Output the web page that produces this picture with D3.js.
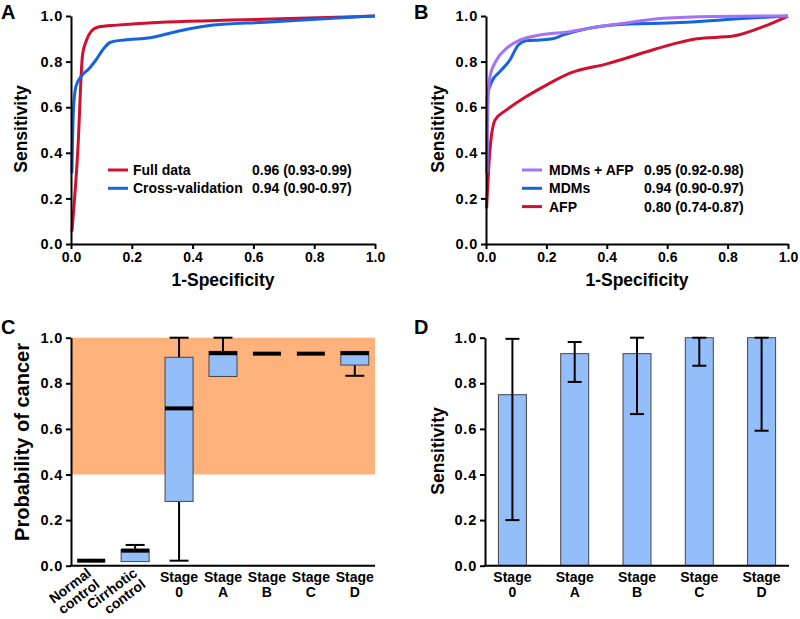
<!DOCTYPE html>
<html>
<head>
<meta charset="utf-8">
<script src="https://cdn.jsdelivr.net/npm/d3@7"></script>
<style>
  html, body { margin: 0; padding: 0; background: #fff; }
  svg { display: block; font-family: Arial, "Liberation Sans", sans-serif; font-weight: bold; }
</style>
</head>
<body>
<svg id="chart" width="800" height="619"></svg>
<script>
// ---------------- DATA ----------------
// Panel A ROC curves (1-specificity, sensitivity)
const fullDataFpr = [0.003, 0.022, 0.038, 0.05, 0.065, 0.09, 0.15, 0.3, 0.53, 0.75, 1.0];
const fullDataTpr = [0.054, 0.40, 0.83, 0.89, 0.93, 0.952, 0.96, 0.973, 0.982, 0.99, 1.0];
const crossValFpr = [0.003, 0.008, 0.016, 0.033, 0.06, 0.082, 0.104, 0.13, 0.175, 0.26, 0.345, 0.444, 0.64, 0.86, 1.0];
const crossValTpr = [0.31, 0.59, 0.69, 0.734, 0.77, 0.807, 0.851, 0.885, 0.895, 0.905, 0.931, 0.956, 0.973, 0.99, 1.0];
const legendA = ["Full data", "Cross-validation"];
const aucA = ["0.96 (0.93-0.99)", "0.94 (0.90-0.97)"];

// Panel B ROC curves
const mdmAfpFpr = [0.003, 0.006, 0.013, 0.035, 0.068, 0.113, 0.179, 0.278, 0.35, 0.444, 0.587, 0.753, 1.0];
const mdmAfpTpr = [0.31, 0.60, 0.734, 0.807, 0.858, 0.895, 0.917, 0.931, 0.948, 0.966, 0.99, 0.998, 1.0];
const mdmFpr = [0.003, 0.004, 0.019, 0.046, 0.079, 0.107, 0.135, 0.179, 0.22, 0.256, 0.422, 0.642, 0.863, 1.0];
const mdmTpr = [0.31, 0.646, 0.712, 0.756, 0.807, 0.873, 0.892, 0.895, 0.90, 0.917, 0.961, 0.971, 0.99, 1.0];
const afpFpr = [0.002, 0.013, 0.03, 0.068, 0.124, 0.2, 0.278, 0.4, 0.532, 0.6, 0.698, 0.819, 0.918, 1.0];
const afpTpr = [0.156, 0.412, 0.544, 0.588, 0.639, 0.697, 0.749, 0.79, 0.843, 0.87, 0.90, 0.912, 0.953, 1.0];
const legendB = ["MDMs + AFP", "MDMs", "AFP"];
const aucB = ["0.95 (0.92-0.98)", "0.94 (0.90-0.97)", "0.80 (0.74-0.87)"];

// Panel C box plots
const boxCats = ["Normal control", "Cirrhotic control", "Stage 0", "Stage A", "Stage B", "Stage C", "Stage D"];
const boxMin = [0.022, 0.018, 0.022, 0.83, 0.93, 0.93, 0.833];
const boxQ1  = [0.022, 0.018, 0.282, 0.83, 0.93, 0.93, 0.88];
const boxMed = [0.022, 0.066, 0.69, 0.932, 0.93, 0.93, 0.932];
const boxQ3  = [0.022, 0.072, 0.914, 0.94, 0.93, 0.93, 0.94];
const boxMax = [0.022, 0.091, 1.0, 1.0, 0.93, 0.93, 0.94];
const cancerThreshold = [0.4, 1.0];

// Panel D sensitivity by stage
const stageCats = ["Stage 0", "Stage A", "Stage B", "Stage C", "Stage D"];
const stageSens = [0.75, 0.93, 0.93, 1.0, 1.0];
const stageLo   = [0.20, 0.806, 0.665, 0.877, 0.592];
const stageHi   = [0.995, 0.981, 1.0, 1.0, 1.0];

const yTicks = [0, 0.2, 0.4, 0.6, 0.8, 1.0];

// ---------------- STYLE ----------------
const RED = "#d0102e", BLUE = "#1463e0", PURPLE = "#a372f7";
const ORANGE = "#fdb27c", BOXFILL = "#93befa";

const svg = d3.select("#chart");
const fmt = d3.format(".1f");

function styleAxis(g, size, spacing) {
  g.selectAll("path.domain").attr("stroke", "#000").attr("stroke-width", 2);
  g.selectAll(".tick line").attr("stroke", "#000").attr("stroke-width", 2);
  g.selectAll(".tick text").attr("fill", "#000").style("font-size", size + "px").style("font-weight", "bold")
    .style("letter-spacing", spacing + "px")
    .style("font-family", "Arial, 'Liberation Sans', sans-serif");
}

function panelLabel(txt, x, y) {
  svg.append("text").attr("x", x).attr("y", y).text(txt)
    .style("font-size", "20px").attr("fill", "#000");
}

function yTitle(txt, cx, cy, size) {
  svg.append("text").attr("transform", `translate(${cx},${cy}) rotate(-90)`)
    .attr("text-anchor", "middle").text(txt).style("font-size", size + "px").attr("fill", "#000");
}

// ---------------- ROC PANELS ----------------
function rocPanel(x0, x1, series, colors) {
  const x = d3.scaleLinear().domain([0, 1]).range([x0, x1]);
  const y = d3.scaleLinear().domain([0, 1]).range([244, 16]);
  const line = d3.line().x(d => x(d[0])).y(d => y(d[1])).curve(d3.curveMonotoneX);
  series.forEach((s, i) => {
    svg.append("path").datum(d3.zip(s[0], s[1]))
      .attr("d", line).attr("fill", "none").attr("stroke", colors[i])
      .attr("stroke-width", 3).attr("stroke-linejoin", "round").attr("stroke-linecap", "butt");
  });
  const gy = svg.append("g").attr("transform", `translate(${x0},0)`)
    .call(d3.axisLeft(y).tickValues(yTicks).tickFormat(fmt).tickSize(5).tickSizeOuter(0).tickPadding(3));
  styleAxis(gy, 14.5, 0.8);
  const gx = svg.append("g").attr("transform", `translate(0,244)`)
    .call(d3.axisBottom(x).tickValues(yTicks).tickFormat(fmt).tickSize(5).tickSizeOuter(0).tickPadding(3));
  styleAxis(gx, 14, 0);
  svg.append("text").attr("x", (x0 + x1) / 2).attr("y", 286).attr("text-anchor", "middle")
    .text("1-Specificity").style("font-size", "17.5px");
  return { x, y };
}

function legend(names, vals, colors, lx, tx, vx) {
  names.forEach((n, i) => {
    const ly = 170 + i * 18.3;
    svg.append("line").attr("x1", lx).attr("x2", lx + 20).attr("y1", ly).attr("y2", ly)
      .attr("stroke", colors[i]).attr("stroke-width", 3);
    svg.append("text").attr("x", tx).attr("y", ly + 5).text(n).style("font-size", "14px");
    svg.append("text").attr("x", vx).attr("y", ly + 5).text(vals[i]).style("font-size", "14px");
  });
}

panelLabel("A", 1, 19);
rocPanel(71, 375, [[fullDataFpr, fullDataTpr], [crossValFpr, crossValTpr]], [RED, BLUE]);
legend(legendA, aucA, [RED, BLUE], 108, 133, 252);
yTitle("Sensitivity", 27, 129, 17.5);

panelLabel("B", 414, 19);
rocPanel(486, 788, [[afpFpr, afpTpr], [mdmFpr, mdmTpr], [mdmAfpFpr, mdmAfpTpr]], [RED, BLUE, PURPLE]);
legend(legendB, aucB, [PURPLE, BLUE, RED], 522, 549, 644);
yTitle("Sensitivity", 444, 129, 17.5);

// ---------------- PANEL C ----------------
(function () {
  const yC = d3.scaleLinear().domain([0, 1]).range([565.7, 337.7]);
  const xC = d3.scalePoint().domain(boxCats).range([71, 375]).padding(0.46);
  const bw = 28, cw = 19;
  svg.append("rect").attr("x", 71).attr("width", 375 - 71)
    .attr("y", yC(cancerThreshold[1])).attr("height", yC(cancerThreshold[0]) - yC(cancerThreshold[1]))
    .attr("fill", ORANGE);
  boxCats.forEach((c, i) => {
    const cx = xC(c);
    const g = svg.append("g");
    if (boxMax[i] > boxQ3[i]) {
      g.append("line").attr("x1", cx).attr("x2", cx).attr("y1", yC(boxQ3[i])).attr("y2", yC(boxMax[i]))
        .attr("stroke", "#000").attr("stroke-width", 2);
      g.append("line").attr("x1", cx - cw / 2).attr("x2", cx + cw / 2).attr("y1", yC(boxMax[i])).attr("y2", yC(boxMax[i]))
        .attr("stroke", "#000").attr("stroke-width", 2);
    }
    if (boxMin[i] < boxQ1[i]) {
      g.append("line").attr("x1", cx).attr("x2", cx).attr("y1", yC(boxQ1[i])).attr("y2", yC(boxMin[i]))
        .attr("stroke", "#000").attr("stroke-width", 2);
      g.append("line").attr("x1", cx - cw / 2).attr("x2", cx + cw / 2).attr("y1", yC(boxMin[i])).attr("y2", yC(boxMin[i]))
        .attr("stroke", "#000").attr("stroke-width", 2);
    }
    if (boxQ3[i] > boxQ1[i]) {
      g.append("rect").attr("x", cx - bw / 2).attr("width", bw)
        .attr("y", yC(boxQ3[i])).attr("height", yC(boxQ1[i]) - yC(boxQ3[i]))
        .attr("fill", BOXFILL).attr("stroke", "#444").attr("stroke-width", 1);
    }
    g.append("line").attr("x1", cx - bw / 2).attr("x2", cx + bw / 2).attr("y1", yC(boxMed[i])).attr("y2", yC(boxMed[i]))
      .attr("stroke", "#000").attr("stroke-width", 4);
    // labels
    const parts = c.split(" ");
    if (i < 2) {
      const ax = cx + (i === 0 ? 1 : 3), ay = 575, fs = 14, ang = -37;
      const rad = ang * Math.PI / 180;
      parts.forEach((p, k) => {
        const px = ax - Math.sin(rad) * fs * k, py = ay + Math.cos(rad) * fs * k;
        svg.append("text").attr("transform", `translate(${px},${py}) rotate(${ang})`)
          .attr("text-anchor", "end").style("font-size", fs + "px").text(p);
      });
    } else {
      svg.append("text").attr("text-anchor", "middle").style("font-size", "14px")
        .attr("x", cx).attr("y", 582).text(parts[0]);
      svg.append("text").attr("text-anchor", "middle").style("font-size", "14px")
        .attr("x", cx).attr("y", 597).text(parts[1]);
    }
  });
  const gy = svg.append("g").attr("transform", `translate(71,0)`)
    .call(d3.axisLeft(yC).tickValues(yTicks).tickFormat(fmt).tickSize(5).tickSizeOuter(0).tickPadding(3));
  styleAxis(gy, 14.5, 0.8);
  svg.append("line").attr("x1", 70).attr("x2", 375).attr("y1", 565.7).attr("y2", 565.7)
    .attr("stroke", "#000").attr("stroke-width", 2);
  panelLabel("C", 1, 334);
  yTitle("Probability of cancer", 29, 442, 20);
})();

// ---------------- PANEL D ----------------
(function () {
  const yD = d3.scaleLinear().domain([0, 1]).range([565.7, 337.7]);
  const xD = d3.scalePoint().domain(stageCats).range([485, 789]).padding(0.44);
  const bw = 28, cw = 14;
  stageCats.forEach((c, i) => {
    const cx = xD(c);
    svg.append("rect").attr("x", cx - bw / 2).attr("width", bw)
      .attr("y", yD(stageSens[i])).attr("height", yD(0) - yD(stageSens[i]))
      .attr("fill", BOXFILL).attr("stroke", "#444").attr("stroke-width", 1);
    svg.append("line").attr("x1", cx).attr("x2", cx).attr("y1", yD(stageLo[i])).attr("y2", yD(stageHi[i]))
      .attr("stroke", "#000").attr("stroke-width", 2);
    [stageLo[i], stageHi[i]].forEach(v => {
      svg.append("line").attr("x1", cx - cw / 2).attr("x2", cx + cw / 2).attr("y1", yD(v)).attr("y2", yD(v))
        .attr("stroke", "#000").attr("stroke-width", 2);
    });
    const parts = c.split(" ");
    svg.append("text").attr("text-anchor", "middle").style("font-size", "14px")
      .attr("x", cx).attr("y", 582).text(parts[0]);
    svg.append("text").attr("text-anchor", "middle").style("font-size", "14px")
      .attr("x", cx).attr("y", 597).text(parts[1]);
  });
  const gy = svg.append("g").attr("transform", `translate(485,0)`)
    .call(d3.axisLeft(yD).tickValues(yTicks).tickFormat(fmt).tickSize(5).tickSizeOuter(0).tickPadding(3));
  styleAxis(gy, 14.5, 0.8);
  svg.append("line").attr("x1", 484).attr("x2", 789).attr("y1", 565.7).attr("y2", 565.7)
    .attr("stroke", "#000").attr("stroke-width", 2);
  panelLabel("D", 414, 334);
  yTitle("Sensitivity", 444, 451, 17.5);
})();
</script>
</body>
</html>
